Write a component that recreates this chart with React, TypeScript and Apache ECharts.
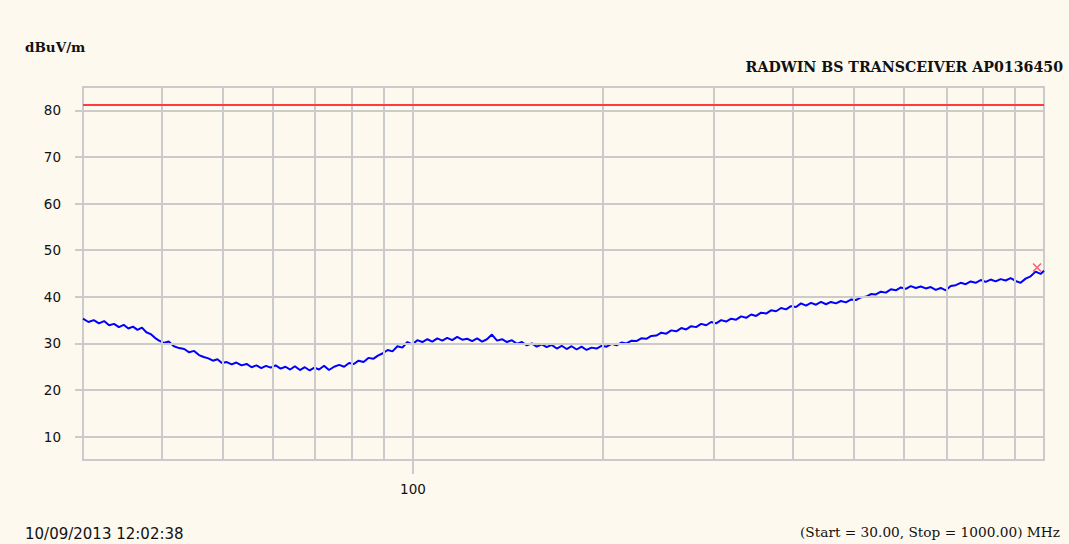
import React, { useEffect, useRef } from "react";
import * as echarts from "echarts";

const freqMHz = [
  30, 30.6, 31.2, 31.8, 32.4, 33, 33.6, 34.2, 34.8, 35.4, 36, 36.6, 37.2, 37.8, 38.4, 39, 39.6,
  40.3, 41, 41.8, 42.6, 43.4, 44.2, 45, 45.8, 46.6, 47.4, 48.2, 49, 49.8,
  50.7, 51.6, 52.5, 53.5, 54.5, 55.5, 56.5, 57.5, 58.5, 59.5, 60.6, 61.7, 62.8, 63.9, 65, 66.2, 67.4, 68.6, 69.8,
  71, 72.3, 73.6, 75, 76.4, 77.8, 79.2, 80.6, 82, 83.5, 85, 86.5, 88, 89.6, 91.2, 92.8, 94.5, 96.2, 98, 99.8,
  101.6, 103.5, 105.4, 107.3, 109.3, 111.3, 113.3, 115.4, 117.5, 119.7, 121.9, 124.1, 126.4, 128.7, 131, 133.4,
  135.9, 138.4, 140.9, 143.5, 146.1, 148.8, 151.5, 154.3, 157.1, 160, 162.9, 165.9, 169, 172.1, 175.2, 178.4,
  181.7, 185, 188.4, 191.9, 195.4, 199,
  202.7, 206.4, 210.2, 214, 218, 222, 226, 230, 234.3, 238.6, 243, 247.5, 252, 256.6, 261.4, 266.2, 271, 276,
  281, 286.2, 291.5, 296.9, 302.3, 307.9, 313.5, 319.3, 325.2, 331.2, 337.3, 343.5, 349.8, 356.2, 362.7, 369.4,
  376.2, 383.1, 390.1, 397.3, 404.6, 412, 419.6, 427.3, 435.2, 443.2, 451.3, 459.6, 468, 476.6, 485.4, 494.3,
  503.4, 512.7, 522.1, 531.7, 541.5, 551.4, 561.5, 571.9, 582.4, 593.1, 604, 615.1, 626.4, 637.9, 649.6, 661.6,
  673.7, 686.1, 698.7, 711.6, 724.6, 737.9, 751.5, 765.3, 779.3, 793.7, 808.3, 823.1, 838.2, 853.6, 869.3, 885.3,
  901.6, 918.2, 935.1, 952.3, 969.8, 987.6, 1000,
];

const levelDbuvm = [
  35.3, 34.6, 35.0, 34.3, 34.8, 33.9, 34.2, 33.5, 34.0, 33.2, 33.6, 32.9, 33.4, 32.4, 32.0, 31.2, 30.6,
  30.1, 30.4, 29.4, 29.0, 28.8, 28.1, 28.4, 27.5, 27.1, 26.8, 26.3, 26.6, 25.8,
  26.0, 25.5, 25.9, 25.3, 25.6, 24.9, 25.3, 24.7, 25.2, 24.8, 25.3, 24.6, 25.0, 24.4, 25.1, 24.3, 24.9, 24.2, 24.8,
  24.4, 25.2, 24.3, 25.0, 25.4, 25.0, 25.8, 25.6, 26.3, 26.0, 26.9, 26.7, 27.4, 27.9, 28.6, 28.3, 29.4, 29.1, 30.3, 29.8,
  30.7, 30.3, 30.9, 30.4, 31.1, 30.6, 31.2, 30.7, 31.4, 30.8, 31.0, 30.5, 31.1, 30.4, 30.9, 31.9,
  30.6, 30.9, 30.3, 30.7, 29.9, 30.3, 29.6, 30.0, 29.3, 29.8, 29.2, 29.7, 28.9, 29.5, 28.8, 29.4,
  28.7, 29.3, 28.6, 29.1, 28.9, 29.5,
  29.3, 29.9, 29.6, 30.2, 30.0, 30.6, 30.5, 31.1, 31.0, 31.6, 31.7, 32.3, 32.1, 32.8, 32.6, 33.3, 33.0, 33.7,
  33.5, 34.2, 33.9, 34.6, 34.3, 35.0, 34.7, 35.3, 35.1, 35.8, 35.5, 36.2, 35.9, 36.6, 36.4, 37.1,
  36.9, 37.6, 37.3, 38.0, 37.8, 38.6, 38.1, 38.7, 38.3, 38.9, 38.4, 38.9, 38.6, 39.1, 38.8, 39.4,
  39.3, 39.9, 40.0, 40.6, 40.5, 41.1, 40.9, 41.6, 41.4, 42.0, 41.7, 42.3, 41.9, 42.2, 41.8, 42.1,
  41.5, 41.9, 41.4, 42.3, 42.5, 43.0, 42.7, 43.3, 43.0, 43.6, 43.2, 43.7, 43.3, 43.8, 43.5, 44.0,
  43.4, 43.0, 43.9, 44.4, 45.4, 44.9, 45.6,
];

const yTicks = [10, 20, 30, 40, 50, 60, 70, 80];
const xGridFreqs = [40, 50, 60, 70, 80, 90, 100, 200, 300, 400, 500, 600, 700, 800, 900];
const xLabelFreqs = [100];
const limitLine = 81.3;
const peakMarker = [975, 46.3];

const yAxisTitle = "dBuV/m";
const chartTitle = "RADWIN BS TRANSCEIVER AP0136450";
const timestamp = "10/09/2013 12:02:38";
const rangeText = "(Start = 30.00, Stop = 1000.00) MHz";

const GRID_COLOR = "#cbcbcb";

export default function App() {
  const ref = useRef<HTMLDivElement>(null);
  useEffect(() => {
    if (!ref.current) return;
    const chart = echarts.init(ref.current, null, { renderer: "svg" });
    const xPath = "path://M0,0 L10,10 M10,0 L0,10";
    chart.setOption({
      animation: false,
      backgroundColor: "#fef9ef",
      grid: {
        left: 83,
        right: 25,
        top: 87,
        bottom: 84,
        show: true,
        borderColor: GRID_COLOR,
        borderWidth: 2,
        backgroundColor: "transparent",
      },
      xAxis: {
        type: "log",
        logBase: 10,
        min: 30,
        max: 1000,
        axisLine: { show: false },
        splitLine: { show: false },
        minorTick: { show: false },
        axisTick: {
          show: true,
          length: 14,
          customValues: xLabelFreqs,
          lineStyle: { color: GRID_COLOR, width: 2 },
        },
        axisLabel: {
          customValues: xLabelFreqs,
          margin: 22,
          color: "#111",
          fontFamily: "DejaVu Sans",
          fontSize: 13.5,
        },
      },
      yAxis: {
        type: "value",
        min: 5,
        max: 85,
        axisLine: { show: false },
        splitLine: { show: false },
        axisTick: {
          show: true,
          length: 8,
          customValues: yTicks,
          lineStyle: { color: GRID_COLOR, width: 2 },
        },
        axisLabel: {
          customValues: yTicks,
          margin: 22,
          color: "#111",
          fontFamily: "DejaVu Sans",
          fontSize: 13.5,
        },
      },
      graphic: [
        {
          type: "text",
          left: 25,
          top: 40,
          style: { text: yAxisTitle, fill: "#111", font: "bold 13.5px 'DejaVu Serif'" },
        },
        {
          type: "text",
          right: 6,
          top: 60,
          style: { text: chartTitle, fill: "#111", font: "bold 14.2px 'DejaVu Serif'" },
        },
        {
          type: "text",
          left: 25,
          top: 526,
          style: { text: timestamp, fill: "#111", font: "15px 'DejaVu Sans'" },
        },
        {
          type: "text",
          right: 9,
          top: 525,
          style: { text: rangeText, fill: "#111", font: "13.7px 'DejaVu Serif'" },
        },
      ],
      series: [
        {
          type: "line",
          data: [],
          z: 1,
          silent: true,
          markLine: {
            silent: true,
            symbol: "none",
            label: { show: false },
            lineStyle: { color: GRID_COLOR, width: 2, type: "solid" },
            data: [
              ...xGridFreqs.map((f) => ({ xAxis: f })),
              ...yTicks.map((v) => ({ yAxis: v })),
            ],
          },
        },
        {
          type: "line",
          data: freqMHz.map((f, i) => [f, levelDbuvm[i]]),
          showSymbol: false,
          z: 3,
          lineStyle: { color: "#0000ff", width: 2 },
          markLine: {
            silent: true,
            symbol: "none",
            label: { show: false },
            lineStyle: { color: "#ff3b3b", width: 2, type: "solid" },
            data: [{ yAxis: limitLine }],
          },
        },
        {
          type: "scatter",
          z: 4,
          data: [peakMarker],
          symbol: xPath,
          symbolSize: 8,
          itemStyle: { color: "none", borderColor: "#ff3355", borderWidth: 1.5 },
        },
      ],
    });
    return () => chart.dispose();
  }, []);
  return (
    <div
      ref={ref}
      style={{ position: "absolute", left: 0, top: 0, width: 1069, height: 544 }}
    />
  );
}
